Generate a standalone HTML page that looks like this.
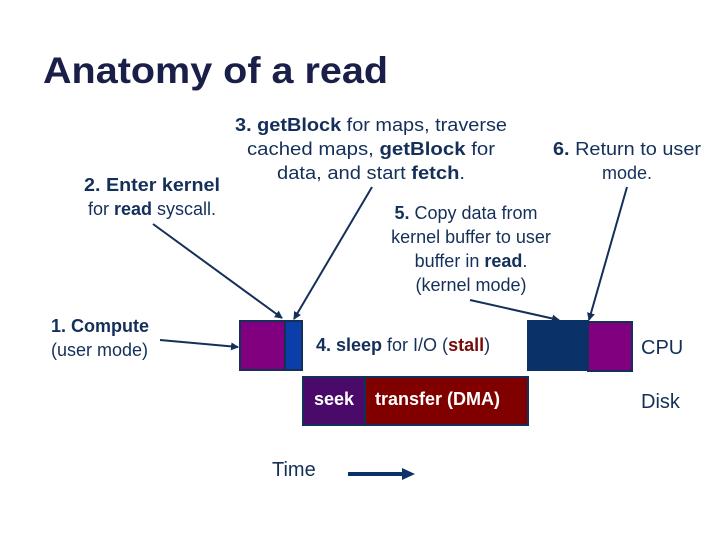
<!DOCTYPE html>
<html><head><style>
html,body{margin:0;padding:0;background:#fff;}
svg text{font-family:"Liberation Sans",sans-serif;fill:#14305a;}
</style></head><body>
<svg width="720" height="540" viewBox="0 0 720 540" xmlns="http://www.w3.org/2000/svg">
<defs><marker id="a" markerWidth="8" markerHeight="8" refX="7" refY="4" orient="auto" markerUnits="userSpaceOnUse"><path d="M0,0 L8,4 L0,8 z" fill="#14305a"/></marker></defs>
<text x="43" y="83" font-size="37" font-weight="bold" style="fill:#1a1f4a" textLength="345" lengthAdjust="spacingAndGlyphs">Anatomy of a read</text>

<g font-size="18" text-anchor="middle">
<text x="371" y="131" textLength="272" lengthAdjust="spacingAndGlyphs"><tspan font-weight="bold">3. getBlock</tspan> for maps, traverse</text>
<text x="371" y="155" textLength="248" lengthAdjust="spacingAndGlyphs">cached maps, <tspan font-weight="bold">getBlock</tspan> for</text>
<text x="371" y="179" textLength="188" lengthAdjust="spacingAndGlyphs">data, and start <tspan font-weight="bold">fetch</tspan>.</text>
<text x="627" y="155" textLength="148" lengthAdjust="spacingAndGlyphs"><tspan font-weight="bold">6.</tspan> Return to user</text>
<text x="627" y="179">mode.</text>
<text x="152" y="191" textLength="136" lengthAdjust="spacingAndGlyphs"><tspan font-weight="bold">2. Enter kernel</tspan></text>
<text x="152" y="215">for <tspan font-weight="bold">read</tspan> syscall.</text>
<text x="466" y="219"><tspan font-weight="bold">5.</tspan> Copy data from</text>
<text x="471" y="243">kernel buffer to user</text>
<text x="471" y="267">buffer in <tspan font-weight="bold">read</tspan>.</text>
<text x="471" y="291">(kernel mode)</text>
</g>
<g font-size="18">
<text x="51" y="332" font-weight="bold">1. Compute</text>
<text x="51" y="356">(user mode)</text>
<text x="316" y="351"><tspan font-weight="bold">4. sleep</tspan> for I/O (<tspan font-weight="bold" style="fill:#7a0a0a">stall</tspan>)</text>
<text x="641" y="354" font-size="20">CPU</text>
<text x="641" y="408" font-size="20">Disk</text>
<text x="272" y="476" font-size="20">Time</text>
</g>

<rect x="240" y="321" width="45" height="49" fill="#800080" stroke="#14305a" stroke-width="2"/>
<rect x="285" y="321" width="17" height="49" fill="#0a3ea8" stroke="#14305a" stroke-width="2"/>
<rect x="528" y="321" width="60" height="49" fill="#0a3268" stroke="#0a3268" stroke-width="2"/>
<rect x="588" y="322" width="44" height="49" fill="#800080" stroke="#14305a" stroke-width="2"/>
<rect x="303" y="377" width="62" height="48" fill="#4a0a6a" stroke="#14305a" stroke-width="2"/>
<rect x="365" y="377" width="163" height="48" fill="#800000" stroke="#14305a" stroke-width="2"/>
<text x="314" y="405" font-size="18" font-weight="bold" style="fill:#fff">seek</text>
<text x="375" y="405" font-size="18" font-weight="bold" style="fill:#fff">transfer (DMA)</text>

<g stroke="#14305a" stroke-width="2" fill="none" marker-end="url(#a)">
<line x1="153" y1="224" x2="282" y2="318"/>
<line x1="372" y1="187" x2="294" y2="319"/>
<line x1="470" y1="300" x2="559" y2="320"/>
<line x1="627" y1="187" x2="589" y2="320"/>
<line x1="160" y1="340" x2="238" y2="347"/>
</g>
<line x1="348" y1="474" x2="404" y2="474" stroke="#0a3268" stroke-width="4"/>
<path d="M402,468 L415,474 L402,480 z" fill="#0a3268"/>
</svg>
</body></html>
